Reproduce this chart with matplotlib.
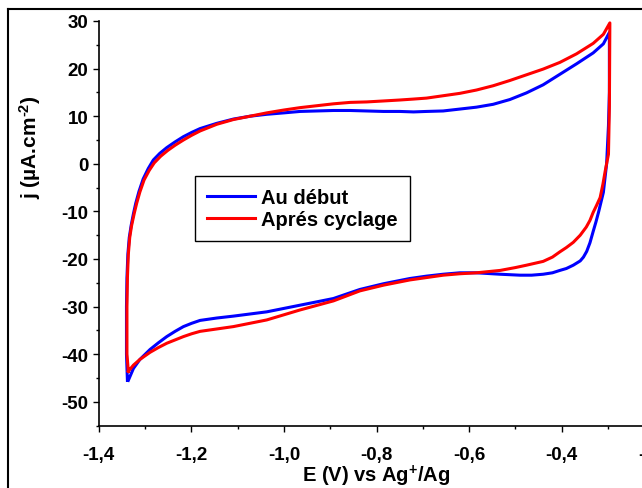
import matplotlib
matplotlib.use("Agg")
import matplotlib.pyplot as plt
from matplotlib.lines import Line2D
from matplotlib.ticker import MultipleLocator, FuncFormatter

plt.rcParams['font.family'] = ['Liberation Sans', 'DejaVu Sans']
plt.rcParams['font.weight'] = 'bold'
plt.rcParams['axes.unicode_minus'] = False
plt.rcParams['mathtext.fontset'] = 'custom'
plt.rcParams['mathtext.bf'] = 'Liberation Sans:bold'
plt.rcParams['mathtext.rm'] = 'Liberation Sans:bold'
plt.rcParams['mathtext.default'] = 'bf'

# Au début - forward (anodic) scan
e_blue_up = [-1.338, -1.340, -1.340, -1.339, -1.337, -1.334, -1.330, -1.325, -1.320, -1.313,
             -1.304, -1.293, -1.282, -1.268, -1.253, -1.235, -1.217, -1.199, -1.181, -1.145,
             -1.109, -1.073, -1.037, -1.000, -0.965, -0.929, -0.893, -0.857, -0.821, -0.785,
             -0.750, -0.720, -0.692, -0.656, -0.620, -0.584, -0.548, -0.512, -0.476, -0.440,
             -0.404, -0.368, -0.332, -0.310, -0.297]
j_blue_up = [-45.5, -40.0, -30.0, -24.0, -19.0, -15.5, -13.0, -10.5, -8.3, -5.8,
             -3.2, -1.0, 0.8, 2.2, 3.4, 4.6, 5.7, 6.6, 7.4, 8.5,
             9.4, 10.0, 10.4, 10.7, 11.0, 11.1, 11.2, 11.2, 11.1, 11.0,
             11.0, 10.9, 11.0, 11.1, 11.5, 11.9, 12.5, 13.5, 14.9, 16.6,
             18.8, 21.0, 23.3, 25.2, 27.6]

# Au début - reverse (cathodic) scan
e_blue_dn = [-0.297, -0.297, -0.299, -0.303, -0.310, -0.320, -0.326, -0.332, -0.339, -0.346,
             -0.353, -0.360, -0.375, -0.390, -0.404, -0.420, -0.440, -0.465, -0.490, -0.533,
             -0.584, -0.620, -0.656, -0.692, -0.728, -0.785, -0.836, -0.893, -0.965, -1.037,
             -1.109, -1.145, -1.181, -1.199, -1.217, -1.235, -1.253, -1.271, -1.289, -1.311,
             -1.325, -1.336]
j_blue_dn = [27.6, 15.0, 8.0, 0.0, -6.0, -10.0, -12.2, -14.2, -16.6, -18.4,
             -19.6, -20.4, -21.3, -22.0, -22.4, -22.9, -23.2, -23.4, -23.4, -23.2,
             -22.9, -22.9, -23.2, -23.6, -24.1, -25.2, -26.4, -28.3, -29.7, -31.1,
             -32.0, -32.4, -32.9, -33.5, -34.2, -35.2, -36.3, -37.6, -39.0, -41.1,
             -43.0, -45.5]

# Aprés cyclage - forward scan
e_red_up = [-1.336, -1.339, -1.339, -1.338, -1.336, -1.333, -1.329, -1.323, -1.318, -1.311,
            -1.302, -1.291, -1.280, -1.266, -1.251, -1.235, -1.217, -1.199, -1.181, -1.145,
            -1.109, -1.073, -1.037, -1.000, -0.965, -0.929, -0.893, -0.857, -0.821, -0.785,
            -0.750, -0.720, -0.692, -0.656, -0.620, -0.584, -0.548, -0.512, -0.476, -0.440,
            -0.404, -0.368, -0.332, -0.310, -0.296]
j_red_up = [-43.6, -40.0, -30.0, -24.0, -19.0, -15.5, -13.0, -10.3, -8.3, -5.9,
            -3.4, -1.4, 0.2, 1.6, 2.8, 3.9, 5.0, 6.0, 6.9, 8.3,
            9.3, 10.0, 10.7, 11.3, 11.8, 12.2, 12.6, 12.9, 13.0, 13.2,
            13.4, 13.6, 13.8, 14.3, 14.8, 15.5, 16.4, 17.5, 18.7, 19.9,
            21.3, 23.1, 25.3, 27.2, 29.6]

# Aprés cyclage - reverse scan
e_red_dn = [-0.296, -0.297, -0.299, -0.306, -0.311, -0.317, -0.325, -0.332, -0.339, -0.347,
            -0.360, -0.375, -0.390, -0.404, -0.420, -0.440, -0.458, -0.476, -0.500, -0.533,
            -0.584, -0.620, -0.656, -0.692, -0.728, -0.785, -0.836, -0.893, -0.965, -1.037,
            -1.109, -1.145, -1.181, -1.199, -1.217, -1.235, -1.253, -1.271, -1.289, -1.311,
            -1.325, -1.336]
j_red_dn = [29.6, 12.0, 2.0, -1.5, -4.3, -7.1, -8.8, -10.2, -11.9, -13.3,
            -15.0, -16.5, -17.6, -18.5, -19.6, -20.5, -20.9, -21.3, -21.8, -22.4,
            -22.9, -23.1, -23.4, -23.9, -24.4, -25.5, -26.7, -28.8, -30.7, -32.8,
            -34.2, -34.7, -35.2, -35.7, -36.3, -37.0, -37.7, -38.6, -39.6, -41.1,
            -42.3, -43.6]

labels = ["Au début", "Aprés cyclage"]

W, H = 642, 489
fig = plt.figure(figsize=(W / 100, H / 100), dpi=100)
ax = fig.add_axes([98.7 / W, 1 - 426.6 / H, 555.6 / W, 404.6 / H])

ax.plot(e_blue_up + e_blue_dn, j_blue_up + j_blue_dn, color='#0000ff', lw=2.2, label=labels[0])
ax.plot(e_red_up + e_red_dn, j_red_up + j_red_dn, color='#ff0000', lw=2.2, label=labels[1])

ax.set_xlim(-1.4, -0.2)
ax.set_ylim(-55, 30)
for s in ['top', 'right']:
    ax.spines[s].set_visible(False)
for s in ['left', 'bottom']:
    ax.spines[s].set_linewidth(1.2)

ax.xaxis.set_major_locator(MultipleLocator(0.2))
ax.xaxis.set_minor_locator(MultipleLocator(0.1))
ax.yaxis.set_major_locator(MultipleLocator(10))
ax.yaxis.set_minor_locator(MultipleLocator(5))
ax.xaxis.set_major_formatter(FuncFormatter(lambda v, p: f"{v:.1f}".replace('.', ',')))
ax.yaxis.set_major_formatter(FuncFormatter(lambda v, p: f"{v:.0f}"))
ax.tick_params(which='major', direction='out', length=4.5, width=1, labelsize=13.5, pad=3)
ax.tick_params(which='minor', direction='out', length=2.5, width=1)
ax.tick_params(axis='x', which='major', pad=10)

ax.set_xlabel(r"E (V) vs Ag$^{+}$/Ag", fontsize=14.5, fontweight='bold', labelpad=0)
ax.set_ylabel(r"j (µA.cm$^{\text{-2}}$)", fontsize=15, fontweight='bold')
ax.yaxis.set_label_coords(-0.100, 0.69)

leg = ax.legend(loc='upper left', bbox_to_anchor=(195 / W, 1 - 177 / H),
                bbox_transform=fig.transFigure, borderaxespad=0, fancybox=False,
                edgecolor='black', framealpha=1, fontsize=14.5, handlelength=2.4,
                handletextpad=0.3, borderpad=0.6, labelspacing=0.15)
leg.get_frame().set_linewidth(1.0)
for t in leg.get_texts():
    t.set_fontweight('bold')

# outer frame of the cropped figure
fig.add_artist(Line2D([8 / W, 8 / W], [0, 1 - 10 / H], color='black', lw=1.5,
                      transform=fig.transFigure))
fig.add_artist(Line2D([8 / W, 1], [1 - 10 / H, 1 - 10 / H], color='black', lw=1.5,
                      transform=fig.transFigure))

fig.savefig("out.png", dpi=100)
